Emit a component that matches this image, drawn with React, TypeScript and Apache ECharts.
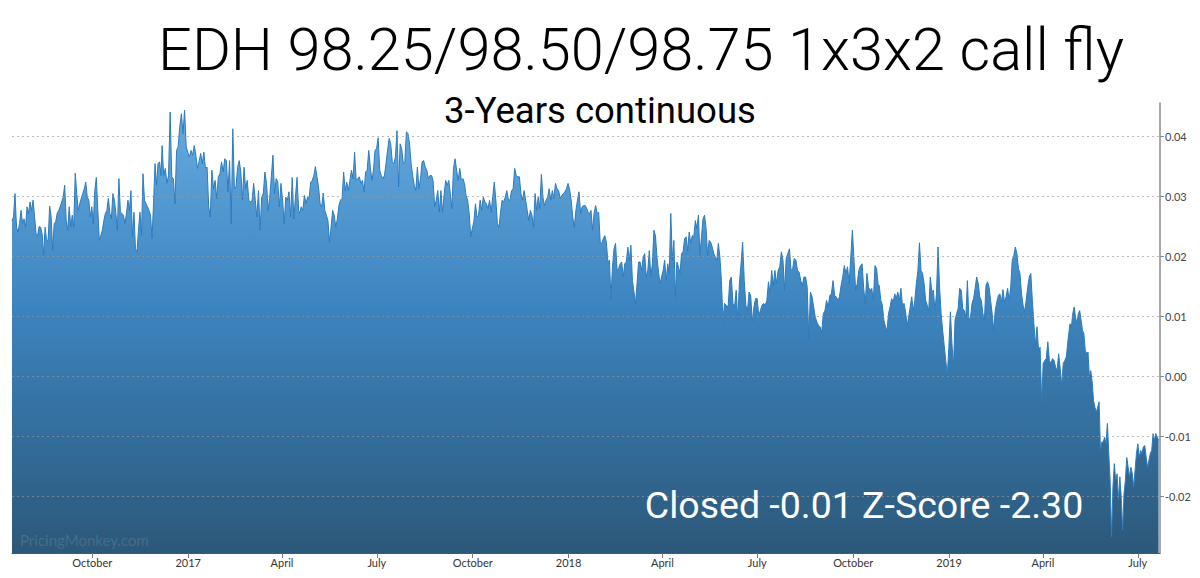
import React, { useEffect, useRef } from "react";
import * as echarts from "echarts";

const TITLE = "EDH 98.25/98.50/98.75 1x3x2 call fly";
const SUBTITLE = "3-Years continuous";
const STATUS = "Closed -0.01 Z-Score -2.30";
const WATERMARK = "PricingMonkey.com";

const MONTH_NAMES = ["January", "February", "March", "April", "May", "June", "July", "August", "September", "October", "November", "December"];
const xTickDates = ["2016-10-01", "2017-01-01", "2017-04-01", "2017-07-01", "2017-10-01", "2018-01-01", "2018-04-01", "2018-07-01", "2018-10-01", "2019-01-01", "2019-04-01", "2019-07-01"];
const xRange = ["2016-07-16", "2019-07-22"];
const yTickValues = [-0.02, -0.01, 0, 0.01, 0.02, 0.03, 0.04];
const yRange = [-0.0295, 0.0455];

// Each segment: first date, last date, and the values read between them (evenly spaced in time)
const segA1 = ["2016-07-16", "2016-12-06"];
const valuesA1 = [
  0.0259, 0.0265, 0.0304, 0.0248, 0.024, 0.0254, 0.0276, 0.0254, 0.0262, 0.0248,
  0.0282, 0.0271, 0.029, 0.0276, 0.0293, 0.0265, 0.0237, 0.0234, 0.0249, 0.0248,
  0.0237, 0.0201, 0.0248, 0.0226, 0.0226, 0.0283, 0.0265, 0.0209, 0.0254, 0.0257,
  0.0271, 0.0276, 0.0282, 0.029, 0.0298, 0.0318, 0.0259, 0.0243, 0.0282, 0.0248,
  0.0268, 0.0248, 0.0338, 0.0304, 0.0276, 0.0287, 0.0296, 0.0304, 0.0312, 0.0323,
  0.0298, 0.0293, 0.0265, 0.0282, 0.0254, 0.0309, 0.0331, 0.0276, 0.0226, 0.0234,
  0.0243, 0.0259, 0.0271, 0.0276, 0.0296, 0.0271, 0.0262, 0.0304, 0.0293, 0.0271,
  0.0243, 0.0329, 0.0273, 0.0271, 0.0268, 0.0254, 0.0271, 0.0293, 0.0276, 0.0309,
  0.0232, 0.0273, 0.0212, 0.0207, 0.0243, 0.0273, 0.0234, 0.0337, 0.0293, 0.0287,
  0.0282, 0.0276, 0.0268, 0.0229, 0.0287, 0.0354, 0.0318, 0.0354, 0.0357, 0.0334,
];

const segA2 = ["2016-12-07", "2017-04-17"];
const valuesA2 = [
  0.0384, 0.0334, 0.0346, 0.0321, 0.0334, 0.044, 0.0332, 0.0329, 0.0287, 0.0376,
  0.0382, 0.0415, 0.0437, 0.0404, 0.0443, 0.0382, 0.0373, 0.0365, 0.0376, 0.0368,
  0.0384, 0.0368, 0.0346, 0.0357, 0.0371, 0.0354, 0.0373, 0.0346, 0.0348, 0.0282,
  0.0265, 0.0343, 0.0312, 0.0326, 0.0296, 0.0332, 0.0337, 0.0357, 0.034, 0.0362,
  0.0359, 0.0307, 0.0359, 0.0254, 0.0412, 0.0312, 0.0315, 0.0348, 0.0359, 0.034,
  0.0293, 0.0348, 0.0312, 0.0326, 0.0293, 0.029, 0.0293, 0.0321, 0.0293, 0.0265,
  0.0309, 0.0243, 0.0298, 0.0304, 0.034, 0.0321, 0.0276, 0.0298, 0.0332, 0.0368,
  0.0304, 0.0329, 0.0323, 0.0282, 0.0321, 0.0293, 0.0254, 0.0298, 0.0293, 0.0307,
  0.0265, 0.0331, 0.0262, 0.0298, 0.0331, 0.0276,
];

const segB = ["2017-04-18", "2018-01-20"];
const valuesB = [
  0.0271, 0.0282, 0.0276, 0.0301, 0.0287, 0.0298, 0.0296, 0.0323, 0.0326, 0.0334,
  0.0349, 0.0332, 0.0315, 0.0287, 0.0282, 0.0305, 0.0276, 0.0268, 0.0259, 0.0223,
  0.0248, 0.0276, 0.0268, 0.0248, 0.0262, 0.0284, 0.0293, 0.0296, 0.034, 0.0309,
  0.0323, 0.0309, 0.0326, 0.0343, 0.0329, 0.0373, 0.0326, 0.0329, 0.0332, 0.0321,
  0.0326, 0.0307, 0.034, 0.0343, 0.0376, 0.0348, 0.0326, 0.0343, 0.0376, 0.0379,
  0.0397, 0.0343, 0.0334, 0.0329, 0.0334, 0.0354, 0.0376, 0.0396, 0.0387, 0.0357,
  0.0354, 0.0365, 0.0409, 0.0315, 0.0387, 0.0379, 0.0354, 0.0357, 0.0407, 0.0404,
  0.0387, 0.0354, 0.0334, 0.0318, 0.0309, 0.0348, 0.0312, 0.0329, 0.0357, 0.0359,
  0.0348, 0.0343, 0.0329, 0.0334, 0.0334, 0.0326, 0.0282, 0.0293, 0.0309, 0.0273,
  0.0309, 0.0273, 0.0301, 0.0326, 0.0318, 0.0326, 0.0304, 0.0279, 0.0346, 0.0362,
  0.0343, 0.0326, 0.0346, 0.0326, 0.0329, 0.0321, 0.0301, 0.0293, 0.0271, 0.0232,
  0.0246, 0.0257, 0.0287, 0.0265, 0.0268, 0.0293, 0.0276, 0.0298, 0.029, 0.0287,
  0.0279, 0.0293, 0.0273, 0.0298, 0.0323, 0.0293, 0.0254, 0.0248, 0.0273, 0.0293,
  0.029, 0.0298, 0.0309, 0.0293, 0.0293, 0.0309, 0.0312, 0.0346, 0.0334, 0.0332,
  0.0332, 0.0304, 0.0293, 0.0309, 0.0293, 0.0276, 0.0259, 0.0276, 0.0268, 0.0248,
  0.0304, 0.0276, 0.0298, 0.0279, 0.0336, 0.0298, 0.0284, 0.0293, 0.0298, 0.0312,
  0.0293, 0.0309, 0.0296, 0.0321, 0.0312, 0.0309, 0.0296, 0.0301, 0.0304, 0.0307,
  0.0312, 0.0321, 0.0311, 0.0293, 0.0265, 0.0248, 0.0276, 0.0293, 0.0307, 0.0271,
  0.0282, 0.0284, 0.0284, 0.0279, 0.0271,
];

const segC1 = ["2018-01-21", "2018-06-01"];
const valuesC1 = [
  0.0271, 0.0276, 0.0243, 0.0271, 0.0284, 0.0271, 0.0273, 0.0223, 0.0221, 0.0229,
  0.0234, 0.0223, 0.019, 0.0193, 0.0129, 0.0182, 0.0212, 0.0221, 0.0176, 0.0179,
  0.0187, 0.019, 0.0165, 0.0187, 0.019, 0.0215, 0.0193, 0.0218, 0.0159, 0.014,
  0.0121, 0.0154, 0.019, 0.019, 0.0176, 0.0198, 0.0204, 0.0165, 0.0176, 0.0209,
  0.0165, 0.0187, 0.0243, 0.0234, 0.0198, 0.0173, 0.0154, 0.0165, 0.0176, 0.0193,
  0.0159, 0.0187, 0.0171, 0.0271, 0.0193, 0.0226, 0.0132, 0.019, 0.0182, 0.0171,
  0.0204, 0.0207, 0.0229, 0.0232, 0.0209, 0.024, 0.0221, 0.0234, 0.0232, 0.0259,
  0.0246, 0.0268, 0.0201, 0.0232, 0.0262, 0.0268, 0.0246, 0.0201, 0.0226, 0.0223,
  0.0215, 0.0204, 0.0198, 0.0193, 0.0221, 0.0198, 0.0159, 0.009, 0.0121, 0.0118,
];

const segC2 = ["2018-06-03", "2018-10-25"];
const valuesC2 = [
  0.0115, 0.0159, 0.0165, 0.0121, 0.0115, 0.0143, 0.0093, 0.0154, 0.0187, 0.0223,
  0.0159, 0.0118, 0.0109, 0.014, 0.0134, 0.009, 0.0115, 0.0129, 0.0129, 0.0101,
  0.0109, 0.0118, 0.0121, 0.0118, 0.0126, 0.0157, 0.0137, 0.0176, 0.0151, 0.0176,
  0.0154, 0.0176, 0.0182, 0.0207, 0.0193, 0.0143, 0.0196, 0.0204, 0.0212, 0.0176,
  0.0179, 0.0196, 0.0193, 0.0176, 0.0173, 0.0159, 0.0151, 0.0165, 0.0165, 0.0148,
  0.0062, 0.014, 0.0132, 0.0115, 0.0098, 0.009, 0.0084, 0.0082, 0.0073, 0.0104,
  0.0109, 0.0126, 0.0115, 0.0134, 0.0137, 0.0159, 0.0134, 0.0132, 0.0126, 0.0132,
  0.0151, 0.0165, 0.0184, 0.0171, 0.0182, 0.0154, 0.0198, 0.0243, 0.0193, 0.0143,
  0.0154, 0.0176, 0.0184, 0.0187, 0.0146, 0.0121, 0.0171, 0.0148, 0.0143, 0.0146,
  0.0126, 0.0184, 0.0179, 0.0151,
];

const segD1 = ["2018-10-26", "2019-04-25"];
const valuesD1 = [
  0.0151, 0.0126, 0.0118, 0.0093, 0.0082, 0.0076, 0.0104, 0.0115, 0.0129, 0.0123,
  0.0137, 0.0129, 0.014, 0.0126, 0.0146, 0.0118, 0.0121, 0.0107, 0.0084, 0.0098,
  0.0115, 0.0132, 0.0109, 0.0126, 0.0154, 0.0176, 0.0222, 0.0176, 0.0171, 0.0154,
  0.0126, 0.0118, 0.0109, 0.0165, 0.014, 0.0143, 0.0109, 0.0137, 0.0215, 0.0148,
  0.0104, 0.0076, 0.0051, 0.0026, 0.0001, 0.0048, 0.0107, 0.0054, 0.0015, 0.0093,
  0.0104, 0.0112, 0.0146, 0.0143, 0.0112, 0.0109, 0.0098, 0.0159, 0.0093, 0.0098,
  0.0121, 0.0129, 0.0146, 0.0165, 0.0154, 0.0132, 0.0126, 0.0104, 0.0093, 0.0151,
  0.0157, 0.0148, 0.0126, 0.0104, 0.0076, 0.0109, 0.0123, 0.0134, 0.0137, 0.0123,
  0.0144, 0.0123, 0.0132, 0.0146, 0.0126, 0.0148, 0.0193, 0.0201, 0.0215, 0.0204,
  0.0179, 0.0171, 0.0137, 0.0118, 0.0107, 0.0126, 0.0148, 0.0165, 0.0171, 0.0126,
  0.0087, 0.0051, 0.0082, 0.0043, 0.0048, -0.0043, 0.0021, 0.0026, 0.0029, 0.0057,
  0.0026, 0.0021, 0.0029, 0.0026, 0.0015, 0.0009, 0.0037, 0.0012, -0.0016, 0.0021,
  0.0026, 0.0032, 0.0059,
];

const segD2 = ["2019-04-27", "2019-07-21"];
const valuesD2 = [
  0.0087, 0.0082, 0.0104, 0.0115, 0.0098, 0.0087, 0.0104, 0.0109, 0.0093, 0.0076,
  0.0071, 0.0043, 0.0037, 0.004, -0.0002, 0.0009, -0.001, -0.0041, -0.0052, -0.006,
  -0.0052, -0.0043, -0.0124, -0.011, -0.011, -0.0102, -0.0113, -0.0079, -0.0129, -0.0174,
  -0.0268, -0.0185, -0.0146, -0.0174, -0.0163, -0.0207, -0.0168, -0.0202, -0.0257, -0.0196,
  -0.0174, -0.0136, -0.0152, -0.0168, -0.0152, -0.0163, -0.0185, -0.0157, -0.0129, -0.0113,
  -0.0135, -0.0124, -0.0129, -0.0118, -0.0116, -0.0135, -0.0152, -0.0141, -0.0129, -0.0124,
  -0.0096, -0.0107, -0.0096, -0.0102, -0.0107,
];

const segments: [string[], number[]][] = [
  [segA1, valuesA1],
  [segA2, valuesA2],
  [segB, valuesB],
  [segC1, valuesC1],
  [segC2, valuesC2],
  [segD1, valuesD1],
  [segD2, valuesD2],
];

const toTime = (s: string) => Date.parse(s + "T00:00:00Z");

function buildSeries(): [number, number][] {
  const out: [number, number][] = [];
  for (const [range, vals] of segments) {
    const t0 = toTime(range[0]);
    const t1 = toTime(range[1]);
    const n = vals.length;
    for (let i = 0; i < n; i++) {
      const t = n > 1 ? t0 + ((t1 - t0) * i) / (n - 1) : t0;
      out.push([t, vals[i]]);
    }
  }
  return out;
}

export default function App() {
  const ref = useRef<HTMLDivElement>(null);
  useEffect(() => {
    if (!ref.current) return;
    const chart = echarts.init(ref.current, null, { renderer: "svg" });
    const xTicks = xTickDates.map(toTime);
    const option: any = {
      animation: false,
      backgroundColor: "#ffffff",
      grid: { left: 12, right: 40, top: 103, bottom: 25, containLabel: false },
      xAxis: {
        type: "value",
        min: toTime(xRange[0]),
        max: toTime(xRange[1]) + 8 * 3600 * 1000,
        axisLine: { show: true, onZero: false, lineStyle: { color: "#555", width: 1 } },
        axisTick: { show: true, length: 5, lineStyle: { color: "#777" }, customValues: xTicks },
        splitLine: { show: false },
        axisLabel: {
          customValues: xTicks,
          margin: 4,
          color: "#333",
          fontFamily: "Lato",
          fontSize: 11,
          showMinLabel: true,
          showMaxLabel: true,
          formatter: (v: number) => {
            const d = new Date(v);
            const m = d.getUTCMonth();
            return m === 0 ? String(d.getUTCFullYear()) : MONTH_NAMES[m];
          },
        },
      },
      yAxis: {
        type: "value",
        position: "right",
        min: yRange[0],
        max: yRange[1],
        axisLine: { show: true, lineStyle: { color: "#8a8a8a", width: 1.5 } },
        axisTick: { show: true, length: 4, lineStyle: { color: "#8a8a8a" }, customValues: yTickValues },
        splitLine: { show: false },
        axisLabel: {
          customValues: yTickValues,
          margin: 5,
          color: "#444",
          fontFamily: "Lato",
          fontSize: 11,
          formatter: (v: number) => v.toFixed(2),
        },
      },
      series: [
        {
          type: "line",
          data: buildSeries(),
          showSymbol: false,
          symbol: "none",
          lineStyle: { color: "#2b7bbf", width: 1 },
          areaStyle: {
            origin: "start",
            opacity: 1,
            color: new echarts.graphic.LinearGradient(0, 0, 0, 1, [
              { offset: 0, color: "#66abe0" },
              { offset: 0.45, color: "#3c84bf" },
              { offset: 1, color: "#2c5879" },
            ]),
          },
          markLine: {
            silent: true,
            symbol: ["none", "none"],
            label: { show: false },
            lineStyle: { color: "rgba(150,150,150,0.65)", type: [2, 3], width: 1 },
            data: yTickValues.map((v) => ({ yAxis: v })),
          },
        },
      ],
      graphic: [
        {
          type: "text",
          x: 641,
          y: 50,
          style: { text: TITLE, fill: "#000", font: "300 59.5px Roboto", align: "center", verticalAlign: "middle" },
        },
        {
          type: "text",
          x: 600,
          y: 110,
          style: { text: SUBTITLE, fill: "#000", font: "36.5px Roboto", align: "center", verticalAlign: "middle" },
        },
        {
          type: "text",
          x: 864,
          y: 505,
          z: 100,
          style: { text: STATUS, fill: "#ffffff", font: "37.5px Roboto", align: "center", verticalAlign: "middle" },
        },
        {
          type: "text",
          x: 20,
          y: 540,
          z: 100,
          style: { text: WATERMARK, fill: "rgba(255,255,255,0.13)", font: "15px Lato", align: "left", verticalAlign: "middle" },
        },
      ],
    };
    chart.setOption(option);
    return () => chart.dispose();
  }, []);
  return <div ref={ref} style={{ position: "fixed", left: 0, top: 0, width: 1200, height: 578 }} />;
}
